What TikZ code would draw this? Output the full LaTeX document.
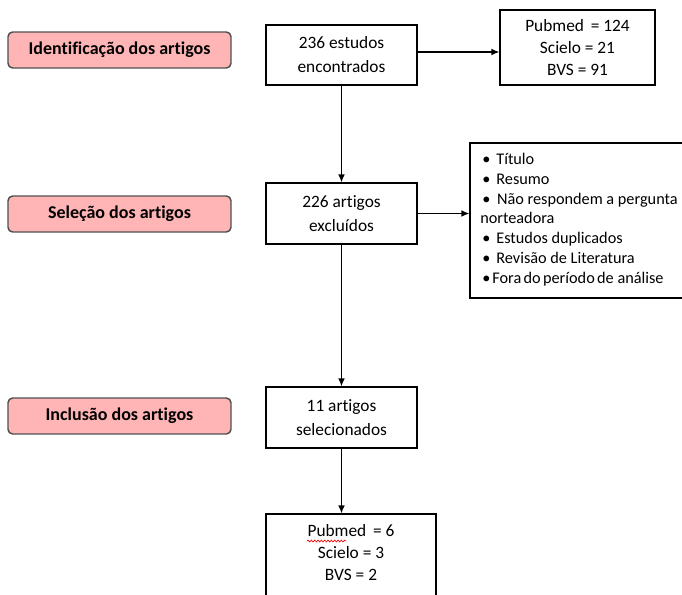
\documentclass[tikz,border=0pt]{standalone}
\usepackage{fontspec}
\setmainfont{Carlito}[Ligatures=NoCommon]
\usetikzlibrary{arrows.meta,decorations.pathmorphing}
\definecolor{stagepink}{HTML}{FFB5B5}
\definecolor{stageborder}{HTML}{505050}
\tikzset{
  stage/.style={draw=stageborder, line width=1.1pt, fill=stagepink, rounded corners=3.5pt,
    minimum width=223*0.75pt, minimum height=36*0.75pt, inner sep=0pt,
    font=\fontsize{13.5pt}{15pt}\selectfont\bfseries},
  flowbox/.style={draw=black, line width=0.9pt, fill=white, inner sep=0pt,
    align=center, font=\fontsize{13pt}{18pt}\selectfont},
  listline/.style={anchor=mid west, inner sep=0pt, font=\fontsize{12.2pt}{14pt}\selectfont},
  arr/.style={draw=black, line width=0.9pt, -{Latex[length=6pt,width=5pt]}},
}
\begin{document}
\begin{tikzpicture}[x=0.75pt,y=-0.75pt]
\useasboundingbox (0,0) rectangle (682,594);
\clip (0,0) rectangle (682,594);
% stage labels
\node[stage] (id) at (119.5,50) {Identificação dos artigos};
\node[stage] (sel) at (119.5,214) {Seleção dos artigos};
\node[stage] (inc) at (119.5,416) {Inclusão dos artigos};
% flow boxes
\node[flowbox, minimum width=151*0.75pt, minimum height=60*0.75pt] (n236) at (341.5,55) {236 estudos\\encontrados};
\node[flowbox, minimum width=155*0.75pt, minimum height=75*0.75pt, font=\fontsize{13pt}{16.5pt}\selectfont] (pub) at (577.5,47.5) {Pubmed \,= 124\\Scielo = 21\\BVS = 91};
\node[flowbox, minimum width=151*0.75pt, minimum height=61*0.75pt, font=\fontsize{13pt}{17.5pt}\selectfont] (n226) at (341.5,213.5) {226 artigos\\excluídos};
\node[flowbox, minimum width=151*0.75pt, minimum height=61*0.75pt, font=\fontsize{13pt}{18.5pt}\selectfont] (n11) at (341.5,417.5) {11 artigos\\selecionados};
% exclusion list box
\node[draw=black, line width=0.9pt, fill=white, minimum width=220*0.75pt, minimum height=155*0.75pt, inner sep=0pt] (list) at (580,220.5) {};
\node[listline] (l1) at (482,161) {\textbullet\hspace{4.5pt}Título};
\node[listline] (l2) at (482,181) {\textbullet\hspace{4.5pt}Resumo};
\node[listline] (l3) at (482,201) {\textbullet\hspace{5pt}Não respondem a pergunta};
\node[listline] (l4) at (480,220) {norteadora};
\node[listline] (l5) at (482,240) {\textbullet\hspace{4.5pt}Estudos duplicados};
\node[listline] (l6) at (482,260) {\textbullet\hspace{4.5pt}Revisão de Literatura};
\node[listline] (l7) at (482,280) {\textbullet\hspace{1.5pt}Fora\hspace{-1pt} do\hspace{-1pt} período\hspace{-1pt} de análise};
% final box (cut off at the bottom)
\node[flowbox, minimum width=170*0.75pt, minimum height=110*0.75pt] (fin) at (351,569) {};
\node[inner sep=0pt, align=center, font=\fontsize{13pt}{16.5pt}\selectfont] (fintext) at (351,553) {Pubmed \,= 6\\Scielo = 3\\BVS = 2};
\coordinate (sqa) at (307,541);
\coordinate (sqb) at (346,541);
\draw[red, line width=0.5pt, decoration={snake, amplitude=0.7pt, segment length=2.5pt}, decorate] (sqa) -- (sqb);
% connectors
\draw[arr] ([yshift=2.25pt]n236.east) -- ([yshift=2.25pt]n236.east -| pub.west);
\draw[arr] (n236.south) -- (n226.north);
\draw[arr] (n226.east) -- (n226.east -| list.west);
\draw[arr] (n226.south) -- (n11.north);
\draw[arr] (n11.south) -- (n11.south |- fin.north);
\end{tikzpicture}
\end{document}
